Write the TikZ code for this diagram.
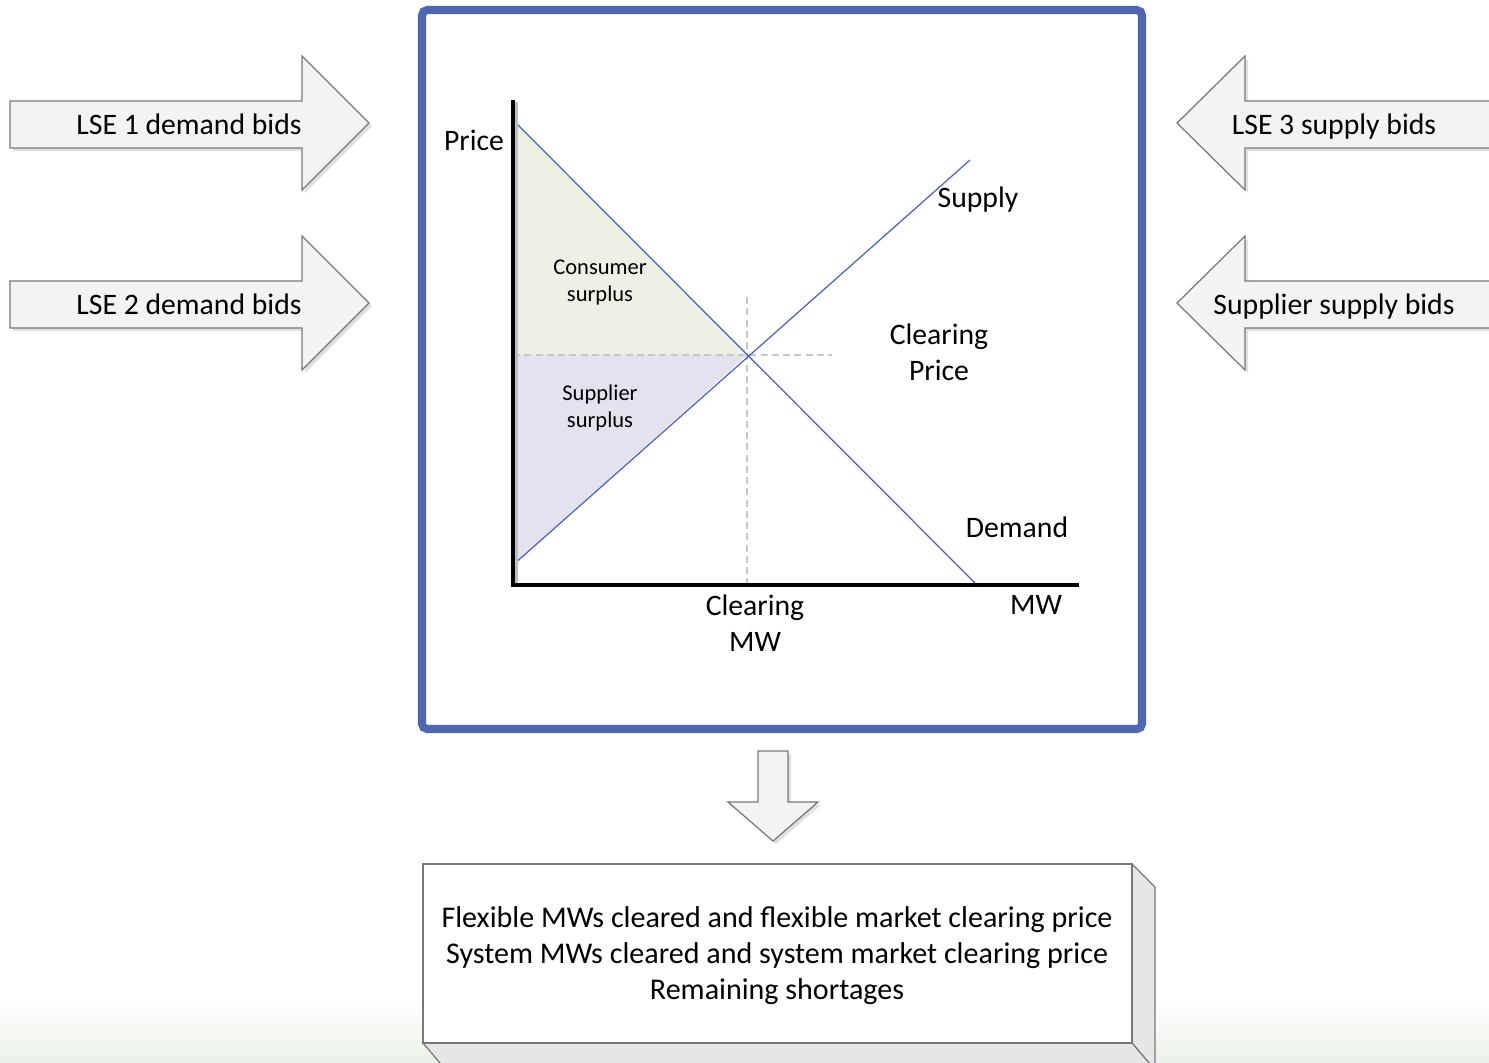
\documentclass[tikz,border=0pt]{standalone}
\usepackage{fontspec}
\setmainfont{Carlito}
\definecolor{frameblue}{RGB}{79,103,177}
\definecolor{curveblue}{RGB}{70,100,192}
\definecolor{consumerfill}{RGB}{237,240,228}
\definecolor{supplierfill}{RGB}{228,226,238}
\definecolor{arrowfill}{RGB}{243,243,243}
\definecolor{arrowline}{RGB}{120,120,120}
\definecolor{dashgray}{RGB}{200,200,200}
\definecolor{facegray}{RGB}{230,230,230}
\begin{document}
\begin{tikzpicture}[x=0.01cm,y=-0.01cm,
  lbl/.style={font=\fontsize{8.45pt}{10pt}\selectfont, inner sep=0pt, align=center, anchor=base},
  smalllbl/.style={font=\fontsize{6.4pt}{7.6pt}\selectfont, inner sep=0pt, align=center, anchor=base},
  blockarrow/.style={draw=arrowline, fill=arrowfill, line width=0.35pt, line join=miter},
  arrowshadow/.style={fill=black!12, draw=none},
  curve/.style={draw=curveblue, line width=0.35pt},
  guide/.style={draw=dashgray, line width=0.4pt, dash pattern=on 2pt off 1.2pt},
  axis/.style={draw=black, line width=1.15pt}]
\useasboundingbox (0,0) rectangle (1489,1062);
\clip (0,0) rectangle (1489,1062);

% faint backdrop band along the lower edge
\shade[top color=white, bottom color={rgb,255:red,236;green,241;blue,233}] (0,1000) rectangle (1489,1062);

% input arrows on the left (demand side)
\foreach \dy in {0,180}{
  \fill[arrowshadow, shift={(3,\dy+3)}] (10,101) -- (302,101) -- (302,56) -- (369,123) -- (302,190) -- (302,148) -- (10,148) -- cycle;
  \draw[blockarrow, shift={(0,\dy)}] (10,101) -- (302,101) -- (302,56) -- (369,123) -- (302,190) -- (302,148) -- (10,148) -- cycle;
}
\node[lbl] (lse1) at (189,134) {LSE 1 demand bids};
\node[lbl] (lse2) at (189,314) {LSE 2 demand bids};

% input arrows on the right (supply side)
\foreach \dy in {0,180}{
  \fill[arrowshadow, shift={(3,\dy+3)}] (1495,101) -- (1245,101) -- (1245,56) -- (1177,123) -- (1245,190) -- (1245,148) -- (1495,148) -- cycle;
  \draw[blockarrow, shift={(0,\dy)}] (1495,101) -- (1245,101) -- (1245,56) -- (1177,123) -- (1245,190) -- (1245,148) -- (1495,148) -- cycle;
}
\node[lbl] (lse3) at (1334,134) {LSE 3 supply bids};
\node[lbl] (supbids) at (1334,314) {Supplier supply bids};

% market clearing frame
\draw[draw=frameblue, line width=2.3pt, rounded corners=1.5pt, fill=white] (422,10) rectangle (1142,729);

% surplus areas
\coordinate (pmax) at (513,120);
\coordinate (pmin) at (513,565);
\coordinate (eq) at (747,355);
\coordinate (peq) at (513,355);
\fill[consumerfill] (pmax) -- (eq) -- (peq) -- cycle;
\fill[supplierfill] (peq) -- (eq) -- (pmin) -- cycle;

% clearing guides
\coordinate (gx) at (832,355);
\coordinate (gtop) at (747,297);
\coordinate (gbot) at (747,585);
\draw[guide] (peq) -- (gx);
\draw[guide] (gtop) -- (gbot);

% demand and supply curves
\coordinate (dend) at (977,585);
\coordinate (send) at (970,160);
\draw[curve] (pmax) -- (dend);
\draw[curve] (pmin) -- (send);

% axes
\coordinate (ytop) at (513,100);
\coordinate (xend) at (1079,585);
\draw[draw=black!25, line width=1pt] (516.5,102) -- (516.5,583);
\draw[axis] (ytop) -- (513,586.5);
\draw[axis] (511.5,585) -- (xend);

% chart labels (multi-line labels sit on the baseline of their last line)
\node[lbl] (price) at (474,150) {Price};
\node[lbl] (supply) at (978,207) {Supply};
\node[smalllbl] (cons) at (600,301) {Consumer\\surplus};
\node[smalllbl] (supp) at (600,427) {Supplier\\surplus};
\node[lbl] (cprice) at (939,380) {Clearing\\Price};
\node[lbl] (demand) at (1017,537) {Demand};
\node[lbl] (cmw) at (755,651) {Clearing\\MW};
\node[lbl] (mw) at (1036,614) {MW};

% output arrow
\fill[arrowshadow, shift={(3,3)}] (758,751) -- (788,751) -- (788,802) -- (818,802) -- (773,841) -- (728,802) -- (758,802) -- cycle;
\draw[blockarrow] (758,751) -- (788,751) -- (788,802) -- (818,802) -- (773,841) -- (728,802) -- (758,802) -- cycle;

% result block drawn as a slab
\draw[draw=arrowline, fill=facegray, line width=0.35pt] (1132,864) -- (1155,887) -- (1155,1070) -- (1132,1043) -- cycle;
\draw[draw=arrowline, fill=facegray, line width=0.35pt] (423,1043) -- (1132,1043) -- (1155,1070) -- (446,1070) -- cycle;
\draw[draw=arrowline, fill=white, line width=0.35pt] (423,864) rectangle (1132,1043);
\node[lbl, font=\fontsize{8.55pt}{10.2pt}\selectfont] (result) at (777,999) {Flexible MWs cleared and flexible market clearing price\\System MWs cleared and system market clearing price\\Remaining shortages};
\end{tikzpicture}
\end{document}
